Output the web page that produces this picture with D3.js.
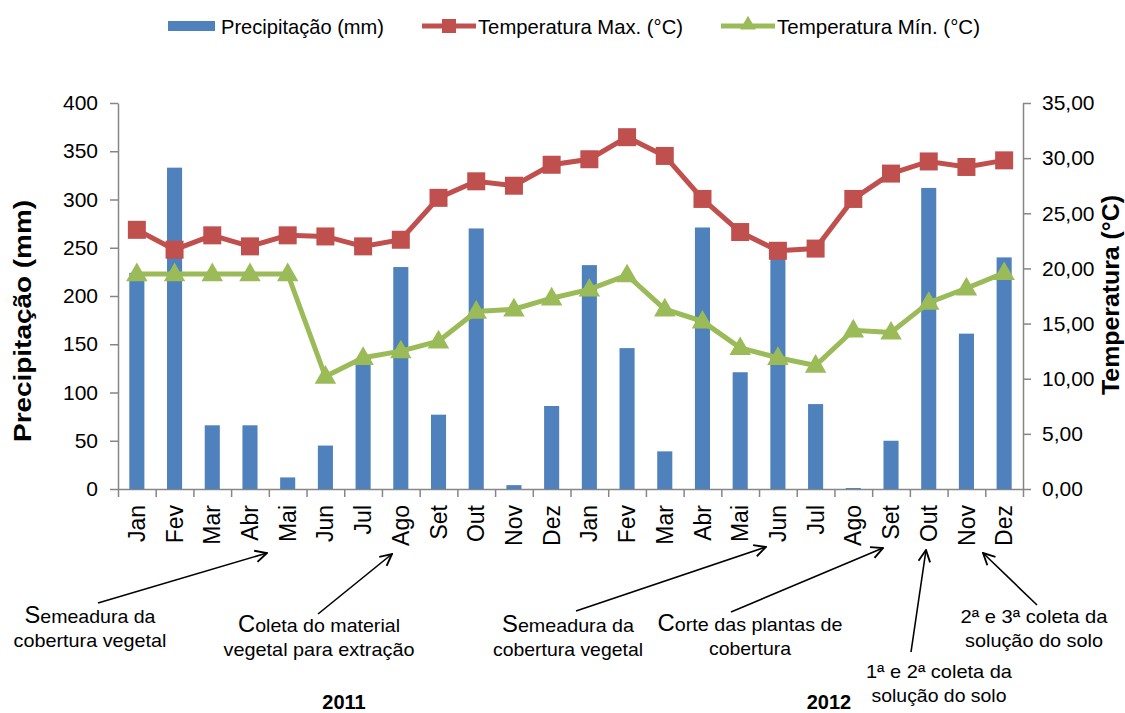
<!DOCTYPE html>
<html>
<head>
<meta charset="utf-8">
<script src="https://cdn.jsdelivr.net/npm/d3@7"></script>
<style>
  body { margin: 0; background: #fff; }
  svg { display: block; }
  text { font-family: "Liberation Sans", Arial, sans-serif; fill: #000; }
</style>
</head>
<body>
<svg width="1125" height="713"></svg>
<script>
// data
const months = ["Jan", "Fev", "Mar", "Abr", "Mai", "Jun", "Jul", "Ago", "Set", "Out", "Nov", "Dez",
                "Jan", "Fev", "Mar", "Abr", "Mai", "Jun", "Jul", "Ago", "Set", "Out", "Nov", "Dez"];
const precip = [224, 333, 66, 66, 12, 45, 135, 230, 77, 270, 4, 86,
                232, 146, 39, 271, 121, 245, 88, 1, 50, 312, 161, 240];
const tempMax = [23.5, 21.7, 23.0, 22.0, 23.0, 22.9, 22.0, 22.6, 26.4, 27.9, 27.5, 29.4,
                 29.9, 31.9, 30.2, 26.3, 23.3, 21.6, 21.8, 26.3, 28.6, 29.7, 29.2, 29.8];
const tempMin = [19.5, 19.5, 19.5, 19.5, 19.5, 10.2, 11.9, 12.5, 13.4, 16.1, 16.3, 17.3,
                 18.1, 19.4, 16.3, 15.2, 12.8, 11.9, 11.2, 14.4, 14.2, 16.9, 18.2, 19.6];
const precipTicks = [0, 50, 100, 150, 200, 250, 300, 350, 400];
const tempTicks = [0, 5, 10, 15, 20, 25, 30, 35];
const years = ["2011", "2012"];

const blue = "#4F81BD", red = "#C0504D", green = "#9BBB59", axisColor = "#868686";

const svg = d3.select("svg");
const plotLeft = 118, plotRight = 1023, plotTop = 103, plotBottom = 489;
const idx = d3.range(months.length);

const x = d3.scaleBand().domain(idx).range([plotLeft, plotRight]).paddingInner(0.6).paddingOuter(0.3);
const xEdge = d3.scaleLinear().domain([0, months.length]).range([plotLeft, plotRight]);
const yP = d3.scaleLinear().domain([0, 400]).range([plotBottom, plotTop]);
const yT = d3.scaleLinear().domain([0, 35]).range([plotBottom, plotTop]);
const cx = i => x(i) + x.bandwidth() / 2;
const comma = d3.formatLocale({decimal: ",", thousands: ".", grouping: [3], currency: ["", ""]}).format(".2f");

// axes
const gl = svg.append("g").attr("transform", `translate(${plotLeft},0)`)
  .call(d3.axisLeft(yP).tickValues(precipTicks).tickSize(8).tickSizeOuter(0).tickPadding(12));
const gr = svg.append("g").attr("transform", `translate(${plotRight},0)`)
  .call(d3.axisRight(yT).tickValues(tempTicks).tickSize(8).tickSizeOuter(0).tickPadding(11).tickFormat(comma));
const gb = svg.append("g").attr("transform", `translate(0,${plotBottom})`)
  .call(d3.axisBottom(xEdge).tickValues(d3.range(months.length + 1)).tickSize(8).tickSizeOuter(0).tickFormat(""));
[gl, gr, gb].forEach(g => {
  g.select(".domain").attr("stroke", axisColor).attr("stroke-width", 1.5);
  g.selectAll(".tick line").attr("stroke", axisColor).attr("stroke-width", 1.5);
  g.selectAll(".tick text").attr("font-size", 21).attr("font-family", "Liberation Sans, Arial, sans-serif").attr("fill", "#000");
});

// month labels
svg.append("g").selectAll("text").data(idx).join("text")
  .attr("transform", i => `translate(${cx(i)},505) rotate(-90)`)
  .attr("text-anchor", "end")
  .attr("dy", "0.35em")
  .attr("font-size", 23)
  .text(i => months[i]);

// bars
svg.append("g").selectAll("rect").data(idx).join("rect")
  .attr("x", i => x(i))
  .attr("width", x.bandwidth())
  .attr("y", i => yP(precip[i]))
  .attr("height", i => plotBottom - yP(precip[i]))
  .attr("fill", blue);

// lines
const lineMax = d3.line().x(i => cx(i)).y(i => yT(tempMax[i]));
const lineMin = d3.line().x(i => cx(i)).y(i => yT(tempMin[i]));
svg.append("path").attr("d", lineMax(idx)).attr("fill", "none").attr("stroke", red).attr("stroke-width", 5);
svg.append("g").selectAll("rect").data(idx).join("rect")
  .attr("x", i => cx(i) - 9).attr("y", i => yT(tempMax[i]) - 9)
  .attr("width", 18).attr("height", 18).attr("fill", red);

svg.append("path").attr("d", lineMin(idx)).attr("fill", "none").attr("stroke", green).attr("stroke-width", 5);
const tri = d3.symbol().type(d3.symbolTriangle).size(200);
svg.append("g").selectAll("path").data(idx).join("path")
  .attr("transform", i => `translate(${cx(i)},${yT(tempMin[i]) + 1})`)
  .attr("d", tri).attr("fill", green);

// axis titles
svg.append("text")
  .attr("transform", "translate(23,321) rotate(-90)")
  .attr("text-anchor", "middle").attr("dy", "0.35em")
  .attr("font-size", 24).attr("font-weight", "bold")
  .attr("textLength", 242).attr("lengthAdjust", "spacingAndGlyphs")
  .text("Precipitação (mm)");
svg.append("text")
  .attr("transform", "translate(1111,295) rotate(-90)")
  .attr("text-anchor", "middle").attr("dy", "0.35em")
  .attr("font-size", 23).attr("font-weight", "bold")
  .attr("textLength", 200).attr("lengthAdjust", "spacingAndGlyphs")
  .text("Temperatura (°C)");

// legend
const lg = svg.append("g");
lg.append("rect").attr("x", 168).attr("y", 21).attr("width", 47).attr("height", 10).attr("fill", blue);
lg.append("text").attr("x", 221).attr("y", 34).attr("font-size", 21).attr("textLength", 163).attr("lengthAdjust", "spacingAndGlyphs").text("Precipitação (mm)");
lg.append("line").attr("x1", 422).attr("x2", 476).attr("y1", 26).attr("y2", 26).attr("stroke", red).attr("stroke-width", 5);
lg.append("rect").attr("x", 442).attr("y", 19).attr("width", 14).attr("height", 14).attr("fill", red);
lg.append("text").attr("x", 478).attr("y", 34).attr("font-size", 21).attr("textLength", 205).attr("lengthAdjust", "spacingAndGlyphs").text("Temperatura Max. (°C)");
lg.append("line").attr("x1", 721).attr("x2", 775).attr("y1", 26).attr("y2", 26).attr("stroke", green).attr("stroke-width", 5);
lg.append("path").attr("transform", "translate(748,25)").attr("d", d3.symbol().type(d3.symbolTriangle).size(110)).attr("fill", green);
lg.append("text").attr("x", 777).attr("y", 34).attr("font-size", 21).attr("textLength", 203).attr("lengthAdjust", "spacingAndGlyphs").text("Temperatura Mín. (°C)");

// annotations
svg.append("defs").append("marker")
  .attr("id", "arrow").attr("viewBox", "0 0 12 12").attr("refX", 11).attr("refY", 6)
  .attr("markerWidth", 14).attr("markerHeight", 14).attr("markerUnits", "userSpaceOnUse")
  .attr("orient", "auto")
  .append("path").attr("d", "M1,1 L11,6 L1,11").attr("fill", "none").attr("stroke", "#000").attr("stroke-width", 1.6);

const notes = [
  {lines: ["Semeadura da", "cobertura vegetal"], widths: [131, 153], x: 90, y: 623, big: true, arrow: [98, 603, 267, 553]},
  {lines: ["Coleta do material", "vegetal para extração"], widths: [162, 191], x: 319, y: 632, big: true, arrow: [318, 614, 392, 554]},
  {lines: ["Semeadura da", "cobertura vegetal"], widths: [132, 150], x: 568, y: 632, big: true, arrow: [576, 611, 766, 547]},
  {lines: ["Corte das plantas de", "cobertura"], widths: [185, 82], x: 750, y: 631, big: true, arrow: [731, 612, 883, 548]},
  {lines: ["1ª e 2ª coleta da", "solução do solo"], widths: [146, 135], x: 939, y: 678, big: false, arrow: [911, 652, 926, 550]},
  {lines: ["2ª e 3ª coleta da", "solução do solo"], widths: [147, 138], x: 1034, y: 623, big: false, arrow: [1037, 605, 983, 553]}
];
notes.forEach(n => {
  svg.append("line")
    .attr("x1", n.arrow[0]).attr("y1", n.arrow[1]).attr("x2", n.arrow[2]).attr("y2", n.arrow[3])
    .attr("stroke", "#000").attr("stroke-width", 1.6).attr("marker-end", "url(#arrow)");
  n.lines.forEach((ln, k) => {
    const t = svg.append("text").attr("x", n.x).attr("y", n.y + k * 23.5)
      .attr("text-anchor", "middle").attr("font-size", 19)
      .attr("textLength", n.widths[k]).attr("lengthAdjust", "spacingAndGlyphs");
    if (n.big && k === 0) {
      t.append("tspan").attr("font-size", 23).text(ln[0]);
      t.append("tspan").text(ln.slice(1));
    } else {
      t.text(ln);
    }
  });
});

// years
svg.selectAll(".year").data(years).join("text")
  .attr("class", "year")
  .attr("x", (d, i) => [344, 829][i]).attr("y", (d, i) => [709, 709][i])
  .attr("text-anchor", "middle").attr("font-size", 20).attr("font-weight", "bold")
  .text(d => d);
</script>
</body>
</html>
